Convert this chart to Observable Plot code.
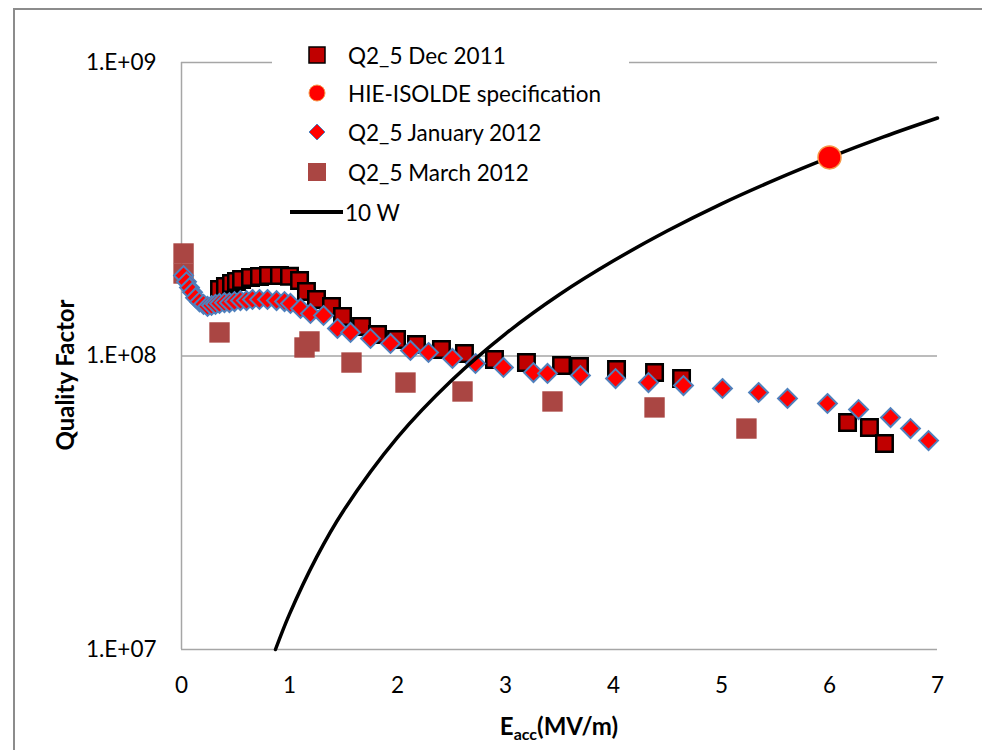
<!DOCTYPE html>
<html><head><meta charset="utf-8">
<script src="https://cdn.jsdelivr.net/npm/d3@7"></script>
<script src="https://cdn.jsdelivr.net/npm/@observablehq/plot@0.6"></script>
<style>body{margin:0;background:#fff;} svg{display:block}</style>
</head><body><div id="chart"></div>
<script>
// Q2_5 Dec 2011
const decE = [0.352,0.407,0.463,0.509,0.556,0.639,0.722,0.806,0.907,1.0,1.093,1.157,1.25,1.389,1.491,1.667,1.815,1.991,2.176,2.407,2.62,2.898,3.194,3.519,3.685,4.028,4.38,4.63,6.167,6.37,6.509];
const decQ = [1.685e8,1.725e8,1.766e8,1.794e8,1.822e8,1.851e8,1.866e8,1.881e8,1.88e8,1.87e8,1.808e8,1.659e8,1.558e8,1.475e8,1.363e8,1.26e8,1.184e8,1.138e8,1.094e8,1.052e8,1.02e8,9.73e7,9.5e7,9.28e7,9.21e7,8.99e7,8.78e7,8.38e7,5.94e7,5.71e7,5.03e7];
// HIE-ISOLDE specification
const specE = [6];
const specQ = [4.75e8];
// Q2_5 January 2012
const janE = [0.019,0.046,0.074,0.102,0.13,0.167,0.204,0.241,0.278,0.315,0.352,0.398,0.444,0.491,0.546,0.602,0.657,0.722,0.796,0.88,0.954,1.009,1.102,1.194,1.315,1.444,1.565,1.75,1.935,2.12,2.287,2.509,2.722,2.981,3.259,3.389,3.694,4.019,4.324,4.648,5.009,5.343,5.611,5.981,6.269,6.565,6.75,6.917];
const janQ = [1.88e8,1.79e8,1.71e8,1.65e8,1.58e8,1.53e8,1.5e8,1.475e8,1.486e8,1.5e8,1.51e8,1.52e8,1.52e8,1.533e8,1.545e8,1.545e8,1.558e8,1.558e8,1.558e8,1.545e8,1.533e8,1.51e8,1.452e8,1.396e8,1.374e8,1.241e8,1.203e8,1.147e8,1.103e8,1.044e8,1.028e8,9.81e7,9.43e7,9.14e7,8.78e7,8.72e7,8.58e7,8.38e7,8.12e7,7.93e7,7.75e7,7.51e7,7.17e7,6.89e7,6.57e7,6.17e7,5.66e7,5.15e7];
// Q2_5 March 2012
const marE = [0.019,0.019,0.352,1.139,1.185,1.574,2.074,2.602,3.435,4.38,5.231];
const marQ = [2.235e8,1.91e8,1.203e8,1.069e8,1.121e8,9.5e7,8.12e7,7.57e7,7.0e7,6.68e7,5.66e7];
// 10 W
const tenWE = [0.87,1.0,1.25,1.5,2,2.5,3,3.5,4,4.5,5,5.5,6,6.5,7];
const tenWQ = [1.0e7,1.32e7,2.06e7,2.97e7,5.28e7,8.25e7,1.19e8,1.62e8,2.11e8,2.67e8,3.30e8,3.99e8,4.75e8,5.58e8,6.47e8];

const xTicks = [0,1,2,3,4,5,6,7];
const xTickLabels = ["0","1","2","3","4","5","6","7"];
const yTicks = [1e7,1e8,1e9];
const yTickLabels = ["1.E+07","1.E+08","1.E+09"];
const seriesNames = ["Q2_5 Dec 2011","HIE-ISOLDE specification","Q2_5 January 2012","Q2_5 March 2012","10 W"];

const rows = (xs, ys) => xs.map((e, i) => ({e, q: ys[i]}));
const dec = rows(decE, decQ), spec = rows(specE, specQ), jan = rows(janE, janQ), mar = rows(marE, marQ), tenW = rows(tenWE, tenWQ);

const font = "Lato, 'Open Sans', sans-serif";
const plot = Plot.plot({
  width: 982, height: 750,
  marginTop: 62, marginRight: 45, marginBottom: 101, marginLeft: 181,
  style: {fontFamily: font, fontSize: "22.5px", background: "white", color: "#000", overflow: "visible"},
  x: {domain: [0, 7]},
  y: {type: "log", domain: [1e7, 1e9]},
  marks: [
    Plot.ruleY(yTicks, {stroke: "#a6a6a6", strokeWidth: 1.5}),
    Plot.ruleX([0], {stroke: "#a6a6a6", strokeWidth: 1.5}),
    Plot.axisX({ticks: xTicks, tickSize: 0, tickPadding: 28, tickFormat: d => xTickLabels[xTicks.indexOf(d)], label: null}),
    Plot.axisY({ticks: yTicks, tickSize: 0, tickPadding: 25, tickFormat: d => yTickLabels[yTicks.indexOf(d)], label: null}),
    Plot.dot(mar, {x: "e", y: "q", symbol: "square", r: 11.5, fill: "#aa4643"}),
    Plot.dot(dec, {x: "e", y: "q", symbol: "square", r: 9.3, fill: "#c00000", stroke: "#000", strokeWidth: 2.5}),
    Plot.dot(jan, {x: "e", y: "q", symbol: "diamond2", r: 8.5, fill: "#ff0000", stroke: "#4f81bd", strokeWidth: 2}),
    Plot.line(tenW, {x: "e", y: "q", stroke: "#000", strokeWidth: 3.5, curve: "catmull-rom"}),
    Plot.dot(spec, {x: "e", y: "q", r: 11.5, fill: "#ff0000", stroke: "#f79646", strokeWidth: 1.5})
  ]
});
document.getElementById("chart").appendChild(plot);

const svg = d3.select(plot);
const ns = svg.append("g").attr("font-family", font).attr("text-anchor", "start");
// outer chart border
ns.append("rect").attr("x", 14).attr("y", 9).attr("width", 990).attr("height", 800)
  .attr("fill", "none").attr("stroke", "#8c8c8c").attr("stroke-width", 2);
// axis titles
ns.append("text").attr("transform", "translate(64,375) rotate(-90)")
  .attr("text-anchor", "middle").attr("dominant-baseline", "central")
  .attr("font-size", 24).attr("font-weight", "bold").text("Quality Factor");
const xt = ns.append("text").attr("x", 559).attr("y", 735).attr("text-anchor", "middle")
  .attr("font-size", 24).attr("font-weight", "bold");
xt.append("tspan").text("E");
xt.append("tspan").attr("font-size", 16).attr("dy", 5).text("acc");
xt.append("tspan").attr("dy", -5).text("(MV/m)");

// legend
const lg = ns.append("g").attr("font-size", 22.5);
lg.append("rect").attr("x", 272).attr("y", 36).attr("width", 357).attr("height", 192).attr("fill", "#fff");
const ly = [55, 93, 132, 172, 212];
const mx = 317;
lg.append("rect").attr("x", mx - 8).attr("y", ly[0] - 8).attr("width", 16).attr("height", 16)
  .attr("fill", "#c00000").attr("stroke", "#000").attr("stroke-width", 1.5);
lg.append("circle").attr("cx", mx).attr("cy", ly[1]).attr("r", 8).attr("fill", "#ff0000").attr("stroke", "#f79646");
lg.append("path").attr("d", `M${mx},${ly[2]-8}L${mx+8},${ly[2]}L${mx},${ly[2]+8}L${mx-8},${ly[2]}Z`)
  .attr("fill", "#ff0000").attr("stroke", "#4f81bd").attr("stroke-width", 1);
lg.append("rect").attr("x", mx - 9).attr("y", ly[3] - 9).attr("width", 18).attr("height", 18).attr("fill", "#aa4643");
lg.append("line").attr("x1", 290).attr("x2", 343).attr("y1", ly[4]).attr("y2", ly[4])
  .attr("stroke", "#000").attr("stroke-width", 4);
seriesNames.forEach((n, i) => {
  lg.append("text").attr("x", i === 4 ? 345 : 348).attr("y", ly[i]).attr("dominant-baseline", "central").text(n);
});
</script>
</body></html>
